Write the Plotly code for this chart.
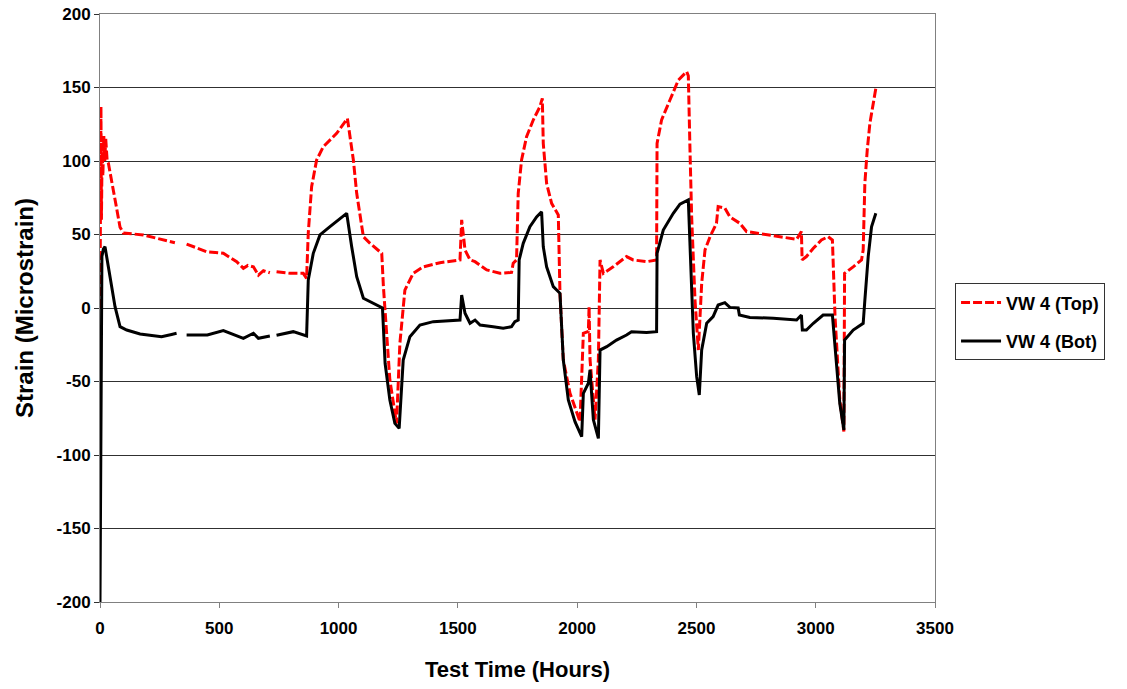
import plotly.graph_objects as go

# Test time (hours) and strain (microstrain)
top_t = [0, 4, 6, 9, 12, 16, 20, 24, 30, 35,
         56, 84, 98, 140, 181, 237, 280, 314, 338, 363,
         400, 447, 517, 573, 601, 620, 643, 664, 685, 712,
         726, 740, 796, 852, 866, 873, 887, 908, 936, 992,
         1037, 1062, 1076, 1104, 1132, 1181, 1188, 1215, 1243, 1257,
         1278, 1313, 1355, 1425, 1509, 1516, 1530, 1551, 1572, 1621,
         1676, 1725, 1732, 1746, 1753, 1767, 1788, 1816, 1844, 1854,
         1858, 1872, 1893, 1921, 1928, 1942, 1970, 2012, 2019, 2026,
         2047, 2050, 2054, 2075, 2089, 2096, 2110, 2151, 2207, 2235,
         2291, 2333, 2335, 2354, 2389, 2424, 2459, 2466, 2473, 2480,
         2494, 2508, 2522, 2536, 2557, 2584, 2591, 2619, 2640, 2682,
         2710, 2766, 2850, 2920, 2940, 2943, 2961, 2990, 3024, 3052,
         3070, 3081, 3101, 3118, 3121, 3157, 3192, 3199, 3206, 3216,
         3227, 3241, 3252]
top_v = [0, 137, 60, 110, 90, 117, 100, 115, 100, 98.6,
         80, 55, 51, 50.5, 49.7, 47.5, 46, 44.4, None, 43.5,
         41, 38.3, 37.2, 31.5, 27, 29, 28, 22.4, 25.4, 24,
         None, 24.7, 23.6, 23.6, 20.2, 51, 82.5, 100.7, 109.7, 118.8,
         129, 100.7, 78, 48.5, 44, 37.2, 14.5, -49, -78.5, -24,
         12.2, 23.6, 28, 30.8, 32.7, 60, 39.5, 32.7, 31.5, 25.9,
         23.6, 24.2, 30.4, 32.7, 78, 100.7, 116.5, 127.9, 137, 142.6,
         112, 84.8, 71.2, 63.3, 10, -35.4, -58, -77.3, -51, -17.2,
         -15.9, 0.9, -35, -76, -35, 32.7, 23.6, 28, 35, 32.7,
         31.5, 32.7, 112, 128, 141.5, 155, 160.8, 158, 107.5, 62,
         5.4, -28.6, 16.8, 39.5, 48.5, 57.6, 69, 68, 62, 57.6,
         52, 50.8, 48.5, 46.7, 52, 32.7, 35, 40.6, 46.3, 48.5,
         46.3, -5.9, -62.6, -84, 23.6, 28, 32.7, 39.5, 84.8, 107.5,
         125.6, 139, 149.4]

bot_t = [0, 3, 8, 14, 21, 35, 63, 84, 112, 168,
         258, 300, 321, 342, 363, 450, 517, 560, 601, 643,
         664, 712, 726, 740, 810, 866, 873, 894, 922, 964,
         1034, 1055, 1076, 1104, 1174, 1184, 1195, 1215, 1236, 1254,
         1271, 1299, 1341, 1397, 1509, 1516, 1530, 1551, 1572, 1593,
         1648, 1690, 1725, 1739, 1753, 1757, 1774, 1802, 1830, 1851,
         1858, 1872, 1900, 1928, 1942, 1963, 1991, 2019, 2026, 2047,
         2054, 2068, 2089, 2096, 2124, 2165, 2207, 2228, 2291, 2333,
         2335, 2361, 2403, 2431, 2466, 2473, 2487, 2501, 2512, 2522,
         2543, 2570, 2591, 2619, 2640, 2675, 2680, 2724, 2822, 2920,
         2940, 2944, 2961, 2990, 3031, 3070, 3081, 3101, 3118, 3121,
         3157, 3199, 3206, 3220, 3234, 3252]
bot_v = [-200, -70, 35, 40, 41.7, 28, 0.9, -12.7, -15, -17.7,
         -19.5, -18, -17.2, None, -18.4, -18.4, -15.4, -18, -20.6, -17.2,
         -20.6, -19, None, -18.5, -16.1, -19, 19, 37.2, 49.7, 55.3,
         64.4, 41.7, 21.3, 6.6, 0.9, 0, -37.6, -62.6, -78.5, -81.9,
         -35.4, -19.5, -11.6, -9.3, -8.2, 8.8, -3.6, -10.4, -8.2, -11.6,
         -12.7, -13.8, -12.7, -9.3, -8.2, 32.7, 44, 55.3, 62, 65.5,
         41.7, 28, 14.5, 10, -35.4, -62.6, -77.3, -87.5, -58, -51.2,
         -42.2, -76, -88.7, -28.6, -26.3, -21.8, -18.4, -16.1, -16.6, -16.1,
         37.2, 53, 64.4, 70.7, 73.5, 39.5, -17.2, -46.7, -59.2, -28.6,
         -10.4, -5.9, 2, 3.6, 0.4, 0, -4.8, -6.4, -7, -8.2,
         -4.8, -15, -15, -10.4, -4.8, -4.8, -28.6, -65, -83, -21.8,
         -15, -10.4, 5.4, 35, 55.3, 64.4]

series_names = ["VW 4 (Top)", "VW 4 (Bot)"]
x_title = "Test Time (Hours)"
y_title = "Strain (Microstrain)"
x_ticks = [0, 500, 1000, 1500, 2000, 2500, 3000, 3500]
y_ticks = [-200, -150, -100, -50, 0, 50, 100, 150, 200]
y_tick_text = ["-200", "-150", "-100", "-50", "0", "50", "100", "150", "200"]

FONT = "Liberation Sans, Arial, sans-serif"

fig = go.Figure()
fig.add_trace(go.Scatter(
    x=top_t, y=top_v, mode="lines", name=series_names[0], legendgroup="a",
    line=dict(color="#ff0000", width=3, dash="9px,3px"), connectgaps=False))
fig.add_trace(go.Scatter(
    x=bot_t, y=bot_v, mode="lines", name=series_names[1], legendgroup="b",
    line=dict(color="#000000", width=3), connectgaps=False))

fig.update_layout(
    width=1127, height=689,
    margin=dict(l=100, r=192, t=14, b=87, autoexpand=False),
    paper_bgcolor="white", plot_bgcolor="white",
    font=dict(family=FONT, color="black", weight="bold"),
    showlegend=True,
    legend=dict(
        x=1.024, xanchor="left", y=0.542, yanchor="top",
        xref="paper", yref="paper",
        bordercolor="#333333", borderwidth=1, bgcolor="white",
        font=dict(family=FONT, size=18, color="black", weight="bold"),
        tracegroupgap=12, itemwidth=40,
    ),
    xaxis=dict(
        range=[0, 3500], tickvals=x_ticks, automargin=False,
        showgrid=False, zeroline=False,
        showline=True, linecolor="#808080", linewidth=1, mirror=True,
        ticks="outside", ticklen=5, tickcolor="#808080",
        ticklabelstandoff=6,
        tickfont=dict(family=FONT, size=17, color="black", weight="bold"),
        title=dict(text=x_title, standoff=24,
                   font=dict(family=FONT, size=22, color="black", weight="bold")),
    ),
    yaxis=dict(
        range=[-200, 200], tickvals=y_ticks, ticktext=y_tick_text, automargin=False,
        showgrid=True, gridcolor="#303030", gridwidth=1, zeroline=False,
        showline=True, linecolor="#808080", linewidth=1, mirror=True,
        ticks="outside", ticklen=5, tickcolor="#303030",
        tickfont=dict(family=FONT, size=17, color="black", weight="bold"),
        title=dict(text=y_title, standoff=16,
                   font=dict(family=FONT, size=24, color="black", weight="bold")),
    ),
)

fig.write_html("out.html")
